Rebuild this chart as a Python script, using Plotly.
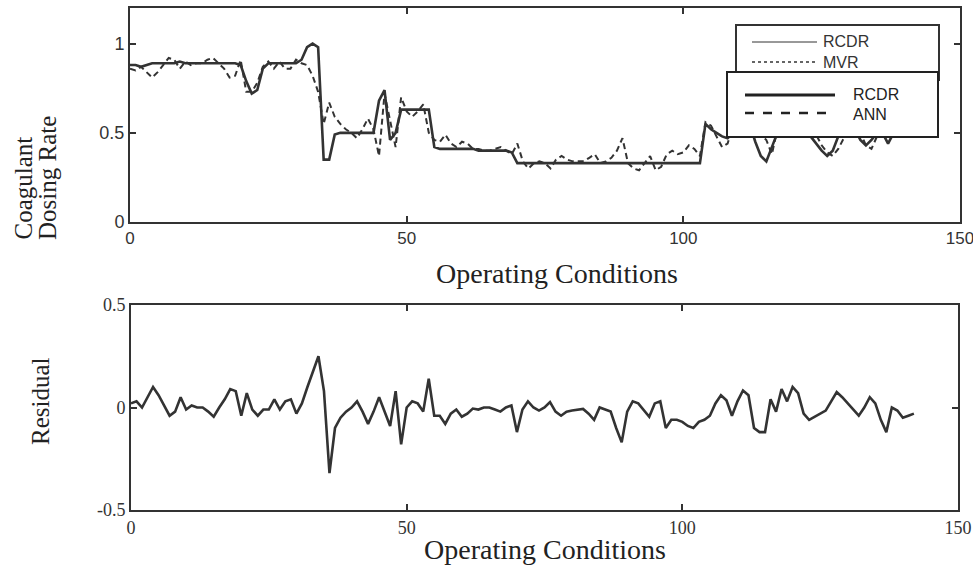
import plotly.graph_objects as go

# ---------------- data ----------------
conditions = list(range(143))

rcdr = [0.88, 0.88, 0.87, 0.88, 0.89, 0.89, 0.89, 0.89, 0.89, 0.90,
        0.89, 0.89, 0.89, 0.89, 0.89, 0.89, 0.89, 0.89, 0.89, 0.89,
        0.88, 0.79, 0.72, 0.74, 0.86, 0.89, 0.89, 0.89, 0.89, 0.89,
        0.89, 0.91, 0.98, 1.00, 0.98, 0.35, 0.35, 0.49, 0.50, 0.50,
        0.50, 0.50, 0.50, 0.50, 0.50, 0.68, 0.74, 0.46, 0.50, 0.63,
        0.63, 0.63, 0.63, 0.63, 0.63, 0.42, 0.41, 0.41, 0.41, 0.41,
        0.41, 0.41, 0.41, 0.40, 0.40, 0.40, 0.40, 0.40, 0.40, 0.39,
        0.33, 0.33, 0.33, 0.33, 0.33, 0.33, 0.33, 0.33, 0.33, 0.33,
        0.33, 0.33, 0.33, 0.33, 0.33, 0.33, 0.33, 0.33, 0.33, 0.33,
        0.33, 0.33, 0.33, 0.33, 0.33, 0.33, 0.33, 0.33, 0.33, 0.33,
        0.33, 0.33, 0.33, 0.33, 0.55, 0.52, 0.50, 0.48, 0.47, 0.50,
        0.55, 0.58, 0.55, 0.45, 0.37, 0.34, 0.42, 0.50, 0.58, 0.56,
        0.60, 0.58, 0.52, 0.48, 0.44, 0.40, 0.37, 0.40, 0.48, 0.52,
        0.55, 0.52, 0.46, 0.43, 0.46, 0.50, 0.50, 0.44, 0.50, 0.52,
        0.50, 0.50, 0.51]

ann = [0.86, 0.85, 0.87, 0.84, 0.81, 0.84, 0.88, 0.92, 0.91, 0.86,
       0.90, 0.88, 0.89, 0.89, 0.91, 0.92, 0.89, 0.86, 0.81, 0.82,
       0.91, 0.73, 0.73, 0.78, 0.87, 0.90, 0.86, 0.90, 0.86, 0.86,
       0.91, 0.89, 0.88, 0.82, 0.73, 0.55, 0.67, 0.59, 0.55, 0.52,
       0.50, 0.47, 0.52, 0.58, 0.52, 0.37, 0.72, 0.56, 0.42, 0.70,
       0.62, 0.59, 0.62, 0.66, 0.50, 0.46, 0.45, 0.49, 0.44, 0.42,
       0.45, 0.44, 0.41, 0.41, 0.40, 0.40, 0.41, 0.42, 0.40, 0.38,
       0.44, 0.34, 0.30, 0.33, 0.34, 0.33, 0.30, 0.35, 0.37, 0.35,
       0.34, 0.34, 0.34, 0.36, 0.38, 0.33, 0.34, 0.36, 0.40, 0.47,
       0.33, 0.30, 0.29, 0.33, 0.37, 0.29, 0.31, 0.38, 0.40, 0.38,
       0.39, 0.43, 0.41, 0.37, 0.56, 0.54, 0.48, 0.42, 0.44, 0.54,
       0.52, 0.50, 0.49, 0.55, 0.49, 0.46, 0.38, 0.52, 0.49, 0.53,
       0.50, 0.51, 0.55, 0.54, 0.49, 0.43, 0.39, 0.37, 0.41, 0.47,
       0.53, 0.53, 0.50, 0.43, 0.41, 0.48, 0.56, 0.56, 0.50, 0.53,
       0.55, 0.54, 0.54]

residual = [0.02, 0.03, 0.00, 0.05, 0.10, 0.06, 0.01, -0.04, -0.02, 0.05,
            -0.01, 0.01, 0.00, 0.00, -0.02, -0.045, 0.00, 0.04, 0.09, 0.08,
            -0.04, 0.07, -0.01, -0.04, -0.01, -0.01, 0.04, -0.01, 0.03, 0.04,
            -0.03, 0.02, 0.10, 0.18, 0.25, 0.08, -0.32, -0.10, -0.05, -0.02,
            0.00, 0.03, -0.02, -0.08, -0.02, 0.05, -0.02, -0.09, 0.08, -0.18,
            0.00, 0.03, 0.02, -0.02, 0.14, -0.04, -0.04, -0.08, -0.03, -0.01,
            -0.045, -0.03, -0.005, -0.01, 0.00, 0.00, -0.01, -0.02, 0.00, 0.01,
            -0.12, -0.01, 0.03, 0.00, -0.015, 0.00, 0.026, -0.02, -0.04, -0.02,
            -0.015, -0.01, -0.007, -0.03, -0.06, 0.00, -0.01, -0.02, -0.10, -0.17,
            -0.02, 0.03, 0.02, -0.01, -0.045, 0.02, 0.03, -0.10, -0.06, -0.06,
            -0.07, -0.09, -0.10, -0.07, -0.06, -0.04, 0.02, 0.06, 0.035, -0.04,
            0.03, 0.083, 0.06, -0.10, -0.12, -0.12, 0.04, -0.02, 0.09, 0.03,
            0.10, 0.07, -0.03, -0.06, -0.045, -0.03, -0.015, 0.03, 0.075, 0.05,
            0.02, -0.01, -0.04, 0.00, 0.05, 0.02, -0.06, -0.12, 0.00, -0.015,
            -0.05, -0.04, -0.03]

x_ticks = [0, 50, 100, 150]
x_tick_text = ["0", "50", "100", "150"]
top_y_ticks = [0, 0.5, 1]
top_y_text = ["0", "0.5", "1"]
bot_y_ticks = [-0.5, 0, 0.5]
bot_y_text = ["-0.5", "0", "0.5"]

# ---------------- figure ----------------
W, H = 973, 575
INK = "#333333"


def px(x):
    return x / W


def py(y):
    return 1 - y / H


fig = go.Figure()
fig.add_trace(go.Scatter(x=conditions, y=rcdr, mode="lines", name="RCDR",
                         line=dict(color=INK, width=2.6), showlegend=False,
                         xaxis="x", yaxis="y"))
fig.add_trace(go.Scatter(x=conditions, y=ann, mode="lines", name="ANN",
                         line=dict(color=INK, width=2.0, dash="6px,4px"),
                         showlegend=False, xaxis="x", yaxis="y"))
fig.add_trace(go.Scatter(x=conditions, y=residual, mode="lines", name="Residual",
                         line=dict(color=INK, width=2.6), showlegend=False,
                         xaxis="x2", yaxis="y2"))

axis_common = dict(showline=True, linecolor=INK, linewidth=2, mirror="allticks",
                   ticks="inside", ticklen=6, tickcolor=INK, tickwidth=1.5,
                   showgrid=False, zeroline=False, automargin=False,
                   ticklabeloverflow="allow")

fig.update_layout(
    width=W, height=H,
    margin=dict(l=0, r=0, t=0, b=0, pad=0, autoexpand=False),
    paper_bgcolor="white", plot_bgcolor="white",
    showlegend=False,
    xaxis=dict(domain=[px(130), px(960)], range=[0, 150], anchor="y",
               tickvals=x_ticks, ticktext=x_tick_text,
               tickfont=dict(family="Liberation Sans", size=17, color=INK),
               **axis_common),
    yaxis=dict(domain=[py(222), py(8)], range=[0, 1.2], anchor="x",
               tickvals=top_y_ticks, ticktext=top_y_text,
               tickfont=dict(family="Liberation Sans", size=18, color=INK),
               **axis_common),
    xaxis2=dict(domain=[px(131), px(958)], range=[0, 150], anchor="y2",
                tickvals=x_ticks, ticktext=x_tick_text,
                tickfont=dict(family="Liberation Serif", size=18, color=INK),
                **axis_common),
    yaxis2=dict(domain=[py(510), py(305)], range=[-0.5, 0.5], anchor="x2",
                tickvals=bot_y_ticks, ticktext=bot_y_text,
                tickfont=dict(family="Liberation Serif", size=18, color=INK),
                **axis_common),
)

serif = "Liberation Serif"
annotations = [
    dict(text="Operating Conditions", x=px(557), y=py(273), xref="paper", yref="paper",
         xanchor="center", yanchor="middle", showarrow=False,
         font=dict(family=serif, size=28, color="#222")),
    dict(text="Operating Conditions", x=px(545), y=py(549), xref="paper", yref="paper",
         xanchor="center", yanchor="middle", showarrow=False,
         font=dict(family=serif, size=28, color="#222")),
    dict(text="Coagulant", x=px(23), y=py(242), xref="paper", yref="paper",
         xanchor="center", yanchor="bottom", textangle=-90, showarrow=False,
         font=dict(family=serif, size=25, color="#222")),
    dict(text="Dosing Rate", x=px(48), y=py(242), xref="paper", yref="paper",
         xanchor="center", yanchor="bottom", textangle=-90, showarrow=False,
         font=dict(family=serif, size=25, color="#222")),
    dict(text="Residual", x=px(41), y=py(401), xref="paper", yref="paper",
         xanchor="center", yanchor="middle", textangle=-90, showarrow=False,
         font=dict(family=serif, size=25, color="#222")),
    # legend 1 texts
    dict(text="RCDR", x=px(821), y=py(41), xref="paper", yref="paper",
         xanchor="left", yanchor="middle", showarrow=False,
         font=dict(family="Liberation Sans", size=16, color=INK)),
    dict(text="MVR", x=px(821), y=py(62), xref="paper", yref="paper",
         xanchor="left", yanchor="middle", showarrow=False,
         font=dict(family="Liberation Sans", size=16, color=INK)),
    # legend 2 texts
    dict(text="RCDR", x=px(851), y=py(95), xref="paper", yref="paper",
         xanchor="left", yanchor="middle", showarrow=False,
         font=dict(family="Liberation Sans", size=16, color="#222")),
    dict(text="ANN", x=px(851), y=py(114), xref="paper", yref="paper",
         xanchor="left", yanchor="middle", showarrow=False,
         font=dict(family="Liberation Sans", size=16, color="#222")),
]

shapes = [
    # legend 1 box and samples
    dict(type="rect", xref="paper", yref="paper", x0=px(736), x1=px(939),
         y0=py(80), y1=py(25), line=dict(color=INK, width=2), fillcolor="white",
         layer="above"),
    dict(type="line", xref="paper", yref="paper", x0=px(752), x1=px(817),
         y0=py(42), y1=py(42), line=dict(color=INK, width=1), layer="above"),
    dict(type="line", xref="paper", yref="paper", x0=px(752), x1=px(817),
         y0=py(62), y1=py(62), line=dict(color=INK, width=1.5, dash="dot"),
         layer="above"),
    # legend 2 box and samples
    dict(type="rect", xref="paper", yref="paper", x0=px(727), x1=px(938),
         y0=py(137), y1=py(72), line=dict(color="#222", width=2), fillcolor="white",
         layer="above"),
    dict(type="line", xref="paper", yref="paper", x0=px(745), x1=px(835),
         y0=py(95), y1=py(95), line=dict(color="#222", width=3), layer="above"),
    dict(type="line", xref="paper", yref="paper", x0=px(745), x1=px(835),
         y0=py(113), y1=py(113), line=dict(color="#222", width=2.5, dash="dash"),
         layer="above"),
]

fig.update_layout(annotations=annotations, shapes=shapes)
fig.write_html(
    "out.html",
    config={"displayModeBar": False},
    post_script="document.body.style.margin='0px';"
                "document.body.style.overflow='hidden';",
)
